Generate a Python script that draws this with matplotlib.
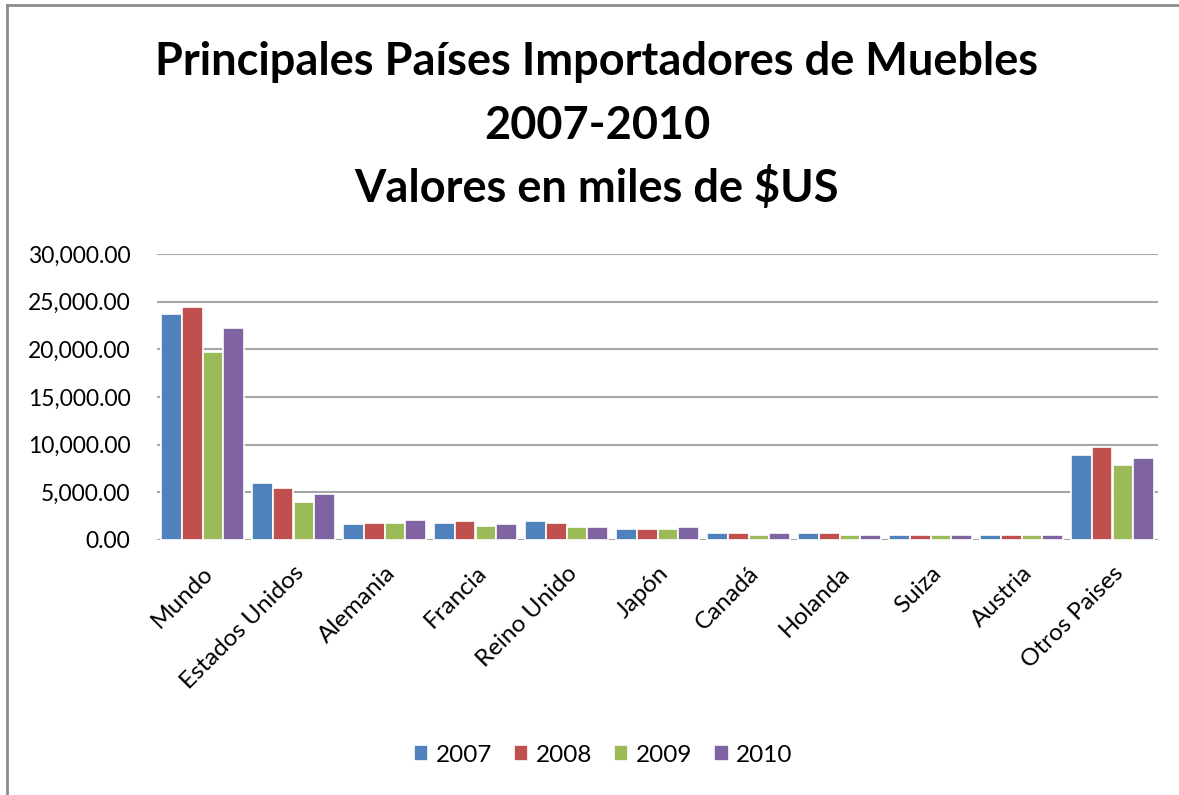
import numpy as np
import matplotlib
matplotlib.use('Agg')
import matplotlib.pyplot as plt
from matplotlib.lines import Line2D
from matplotlib.ticker import FuncFormatter

paises = ['Mundo', 'Estados Unidos', 'Alemania', 'Francia', 'Reino Unido', 'Japón',
          'Canadá', 'Holanda', 'Suiza', 'Austria', 'Otros Paises']
anios = ['2007', '2008', '2009', '2010']
v2007 = [23700, 6000, 1650, 1780, 1960, 1190, 700, 700, 560, 560, 8870]
v2008 = [24450, 5420, 1780, 1960, 1750, 1190, 700, 700, 560, 560, 9780]
v2009 = [19770, 4020, 1780, 1470, 1330, 1190, 560, 560, 560, 560, 7830]
v2010 = [22190, 4790, 2060, 1640, 1330, 1330, 700, 560, 560, 560, 8560]
colores = ['#4F81BD', '#C0504D', '#9BBB59', '#8064A2']
titulos = ['Principales Países Importadores de Muebles', '2007-2010', 'Valores en miles de $US']

plt.rcParams['font.family'] = ['Lato', 'DejaVu Sans']

fig = plt.figure(figsize=(11.79, 7.95), dpi=100)
# marco del grafico (solo borde superior e izquierdo visibles)
x0, y0 = 7/1179, 1 - 5/795
fig.add_artist(Line2D([x0, 1.0], [y0, y0], transform=fig.transFigure, color='#8c8c8c', lw=2))
fig.add_artist(Line2D([x0, x0], [0, y0], transform=fig.transFigure, color='#8c8c8c', lw=2))

ax = fig.add_axes([157/1179, 1-540/795, 1001/1179, 286/795])
x = np.arange(len(paises))
w = 0.227
for i, (serie, c) in enumerate(zip([v2007, v2008, v2009, v2010], colores)):
    ax.bar(x + (i - 1.5)*w, serie, w, color=c, edgecolor='white', linewidth=1.2,
           label=anios[i], zorder=3)

ax.set_xlim(-0.5, len(paises) - 0.5)
ax.set_ylim(0, 30000)
ax.set_yticks(np.arange(0, 30001, 5000))
ax.yaxis.set_major_formatter(FuncFormatter(lambda v, p: f'{v:,.2f}'))
ax.grid(axis='y', color='#a6a6a6', linewidth=1.5, zorder=0)
for s in ax.spines.values():
    s.set_visible(False)
ax.tick_params(axis='both', length=0, colors='black')
ax.tick_params(axis='y', labelsize=16.5, pad=19)
ax.tick_params(axis='x', labelsize=17.5, pad=16)
ax.set_xticks(x)
ax.set_xticklabels(paises, rotation=45, ha='right', rotation_mode='anchor')

for t, yy in zip(titulos, [62, 126, 188]):
    fig.text(597/1179, 1-yy/795, t, ha='center', va='center', fontsize=32.5, fontweight='bold')

fig.legend(loc='center', bbox_to_anchor=(603/1179, 1-755/795), ncol=4, frameon=False,
           fontsize=17.5, handlelength=0.6, handleheight=0.6, handletextpad=0.3, columnspacing=0.9)

fig.savefig('out.png', dpi=100)
